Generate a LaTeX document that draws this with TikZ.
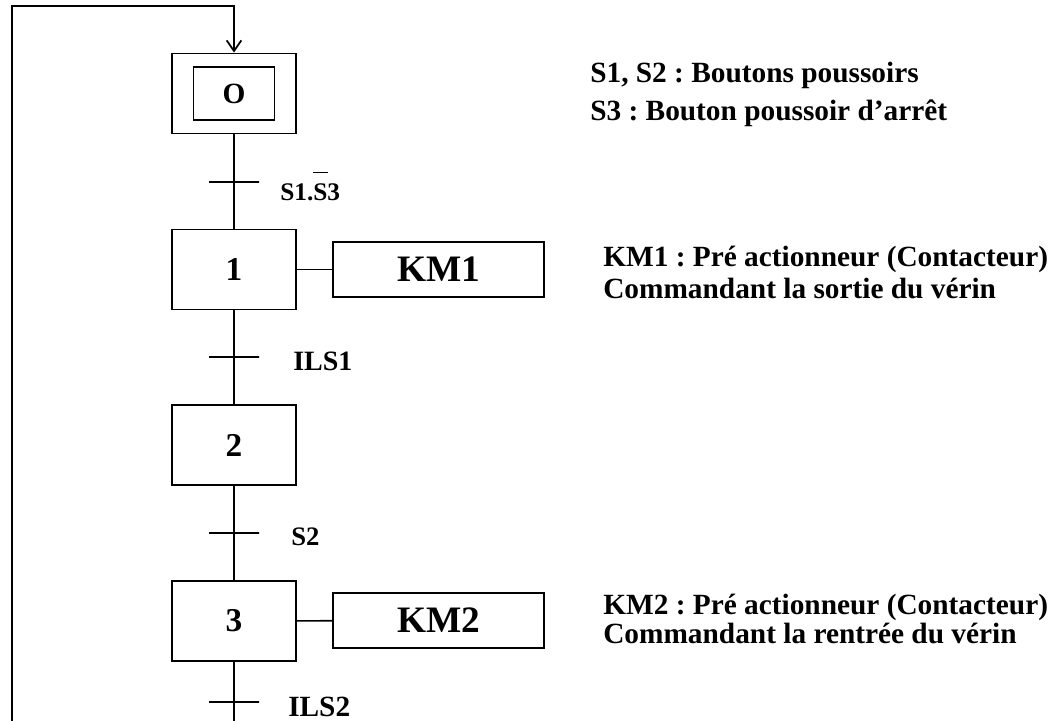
\documentclass[tikz,border=0pt]{standalone}
\usepackage{fontspec}
\setmainfont{Liberation Serif}
\usepackage{tikz}
\usetikzlibrary{arrows.meta}
\frenchspacing
\tikzset{
  etape/.style ={draw, line width=1.4pt, minimum width=93pt, minimum height=60pt, inner sep=0pt, font=\fontsize{25}{25}\selectfont\bfseries},
  init/.style  ={draw, line width=1.4pt, minimum width=60.75pt, minimum height=39.75pt, inner sep=0pt, font=\fontsize{22}{22}\selectfont\bfseries},
  action/.style={draw, line width=1.4pt, minimum width=158pt, minimum height=41pt, inner sep=0pt, font=\fontsize{28}{28}\selectfont\bfseries},
  trans/.style ={draw, line width=1.4pt, minimum width=37.5pt, minimum height=0pt, inner sep=0pt},
  recep/.style ={anchor=base west, inner sep=0pt, font=\fontsize{21}{21}\selectfont\bfseries},
  com/.style   ={anchor=west, inner sep=0pt, align=left},
  lien/.style  ={line width=1.2pt},
  fleche/.style={line width=1.4pt, -{Straight Barb[length=8pt,width=11pt,line width=1.3pt]}},
}

\begin{document}
\begin{tikzpicture}[x=0.75pt, y=-0.75pt]
  \useasboundingbox (0,0) rectangle (1059,721);
  \node[etape] (E0) at (234,93.5) {};
  \node[init]  (E0i) at (234,93.5) {O};
  \node[trans] (T1) at (234,182) {};
  \node[etape] (E1) at (234,269.5) {1};
  \node[action] (A1) at (438.5,269.5) {KM1};
  \node[trans] (T2) at (234,357) {};
  \node[etape] (E2) at (234,445) {2};
  \node[trans] (T3) at (234,533) {};
  \node[etape] (E3) at (234,621) {3};
  \node[action] (A2) at (438.5,620.5) {KM2};
  \node[trans] (T4) at (234,702) {};
  \coordinate (bas) at (234,721);
  \coordinate (basG) at (12,721);
  \coordinate (haut) at (12,6);

  \node[recep, font=\fontsize{19}{19}\selectfont\bfseries] (R1) at (280,200) {S1.\makebox[0pt][l]{\rule[20pt]{11pt}{1.3pt}}S3};
  \node[recep] (R2) at (293,370) {ILS1};
  \node[recep, font=\fontsize{20}{20}\selectfont\bfseries] (R3) at (291,545) {S2};
  \node[recep, font=\fontsize{22}{22}\selectfont\bfseries] (R4) at (288,716) {ILS2};

  \draw[lien] (E0) -- (T1) -- (E1) -- (T2) -- (E2) -- (T3) -- (E3) -- (T4) -- (bas);
  \draw[lien] (E1) -- (A1);
  \draw[lien] (E3) -- (A2);
  \draw[fleche] (basG) -- (haut) -| (E0.north);

  \node[com, font=\fontsize{22}{28.5}\selectfont\bfseries] (C0) at (590,94) {S1, S2 : Boutons poussoirs\\S3 : Bouton poussoir d’arrêt};
  \node[com, font=\fontsize{22}{23.7}\selectfont\bfseries] (C1) at (603,272.5) {KM1 : Pré actionneur (Contacteur)\\Commandant la sortie du vérin};
  \node[com, font=\fontsize{22}{21.5}\selectfont\bfseries] (C2) at (603,619) {KM2 : Pré actionneur (Contacteur)\\Commandant la rentrée du vérin};
\end{tikzpicture}
\end{document}
